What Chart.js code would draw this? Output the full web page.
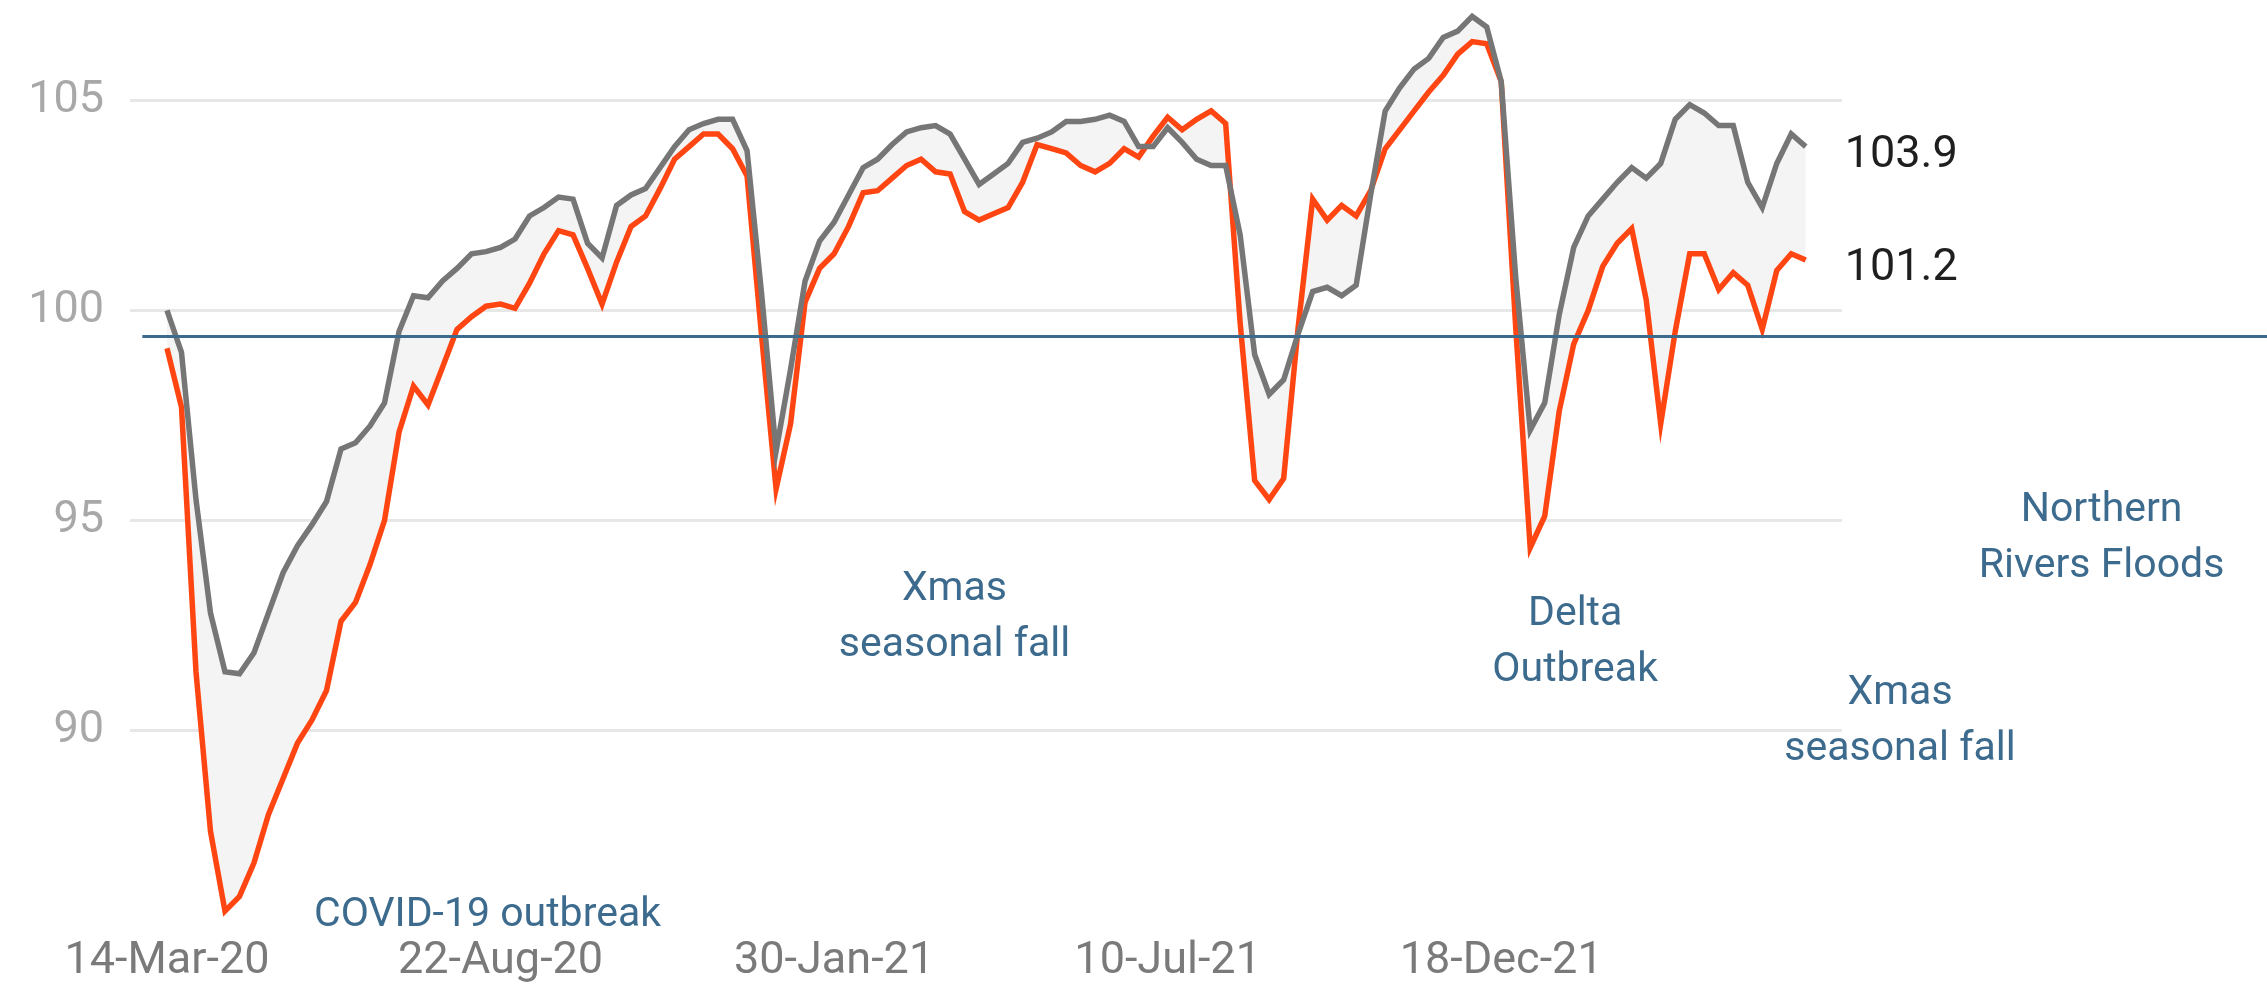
<!DOCTYPE html>
<html>
<head>
<meta charset="utf-8">
<script src="https://cdn.jsdelivr.net/npm/chart.js@4.4.1/dist/chart.umd.min.js"></script>
<style>
  html, body { margin: 0; padding: 0; background: #fff; }
  #wrap { width: 2267px; height: 985px; position: relative; }
</style>
</head>
<body>
<div id="wrap"><canvas id="chart"></canvas></div>
<script>
// weekly index, first week = 14-Mar-20
const tickLabels = ["14-Mar-20", "22-Aug-20", "30-Jan-21", "10-Jul-21", "18-Dec-21"];
const tickWeeks = [0, 23, 46, 69, 92];
const yTicks = [90, 95, 100, 105];

const seriesGrey = [
  100.0, 99.0, 95.5, 92.8, 91.4, 91.35, 91.85, 92.8, 93.75, 94.4,
  94.9, 95.45, 96.7, 96.85, 97.25, 97.8, 99.5, 100.35, 100.3, 100.7,
  101.0, 101.35, 101.4, 101.5, 101.7, 102.25, 102.45, 102.7, 102.65, 101.6,
  101.25, 102.5, 102.75, 102.9, 103.4, 103.9, 104.3, 104.45, 104.55, 104.55,
  103.8, 100.4, 96.65, 98.6, 100.7, 101.65, 102.1, 102.75, 103.4, 103.6,
  103.95, 104.25, 104.35, 104.4, 104.2, 103.6, 103.0, 103.25, 103.5, 104.0,
  104.1, 104.25, 104.5, 104.5, 104.55, 104.65, 104.5, 103.9, 103.9, 104.35,
  104.0, 103.6, 103.45, 103.45, 101.8, 98.95, 98.0, 98.35, 99.45, 100.45,
  100.55, 100.35, 100.6, 102.75, 104.75, 105.3, 105.75, 106.0, 106.5, 106.65,
  107.0, 106.75, 105.45, 100.8, 97.15, 97.8, 99.9, 101.5, 102.25, 102.65,
  103.05, 103.4, 103.15, 103.5, 104.55, 104.9, 104.7, 104.4, 104.4, 103.05,
  102.45, 103.5, 104.2, 103.9
];

const seriesOrange = [
  99.1, 97.7, 91.4, 87.6, 85.7, 86.05, 86.85, 88.0, 88.85, 89.7,
  90.25, 90.95, 92.6, 93.05, 93.95, 95.0, 97.1, 98.2, 97.75, 98.65,
  99.55, 99.85, 100.1, 100.15, 100.05, 100.65, 101.35, 101.9, 101.8, 101.0,
  100.15, 101.15, 102.0, 102.25, 102.9, 103.6, 103.9, 104.2, 104.2, 103.85,
  103.2, 99.4, 95.75, 97.3, 100.2, 101.0, 101.35, 102.0, 102.8, 102.85,
  103.15, 103.45, 103.6, 103.3, 103.25, 102.35, 102.15, 102.3, 102.45, 103.05,
  103.95, 103.85, 103.75, 103.45, 103.3, 103.5, 103.85, 103.65, 104.15, 104.6,
  104.3, 104.55, 104.75, 104.45, 99.7, 95.95, 95.5, 96.0, 99.6, 102.65,
  102.15, 102.5, 102.25, 102.85, 103.85, 104.3, 104.75, 105.2, 105.6, 106.1,
  106.4, 106.35, 105.45, 99.6, 94.35, 95.1, 97.6, 99.2, 100.0, 101.05,
  101.6, 101.95, 100.25, 97.3, 99.5, 101.35, 101.35, 100.5, 100.9, 100.6,
  99.55, 100.95, 101.35, 101.2
];

const refLevel = 99.4;

const notes = [
  { lines: ["COVID-19 outbreak"], week: 22.1, value: 85.6 },
  { lines: ["Xmas", "seasonal fall"], week: 54.3, value: 93.35 },
  { lines: ["Delta", "Outbreak"], week: 97.1, value: 92.75 },
  { lines: ["Xmas", "seasonal fall"], week: 119.5, value: 90.87 },
  { lines: ["Northern", "Rivers Floods"], week: 133.4, value: 95.24 }
];

const BLUE = "#3d6b8e";
const GREY = "#767676";
const ORANGE = "#ff4612";

const toPoints = arr => arr.map((v, i) => ({ x: i, y: v }));

const overlay = {
  id: "overlay",
  afterDatasetsDraw(chart) {
    const ctx = chart.ctx;
    const x = chart.scales.x, y = chart.scales.y;
    ctx.save();

    // reference line
    const ry = Math.round(y.getPixelForValue(refLevel)) + 0.5;
    ctx.strokeStyle = BLUE;
    ctx.lineWidth = 3;
    ctx.beginPath();
    ctx.moveTo(x.getPixelForValue(-1.7), ry);
    ctx.lineTo(chart.width, ry);
    ctx.stroke();

    // last values
    ctx.font = "45px Roboto";
    ctx.fillStyle = "#1f1f1f";
    ctx.textAlign = "left";
    ctx.textBaseline = "middle";
    [seriesGrey, seriesOrange].forEach(s => {
      const last = s.length - 1;
      ctx.fillText(s[last].toFixed(1), x.getPixelForValue(last) + 39, y.getPixelForValue(s[last]) + 9);
    });

    // notes
    ctx.font = "41px Roboto";
    ctx.fillStyle = BLUE;
    ctx.textAlign = "center";
    notes.forEach(n => {
      const px = x.getPixelForValue(n.week);
      const py = y.getPixelForValue(n.value);
      n.lines.forEach((t, k) => ctx.fillText(t, px, py + k * 56));
    });

    ctx.restore();
  }
};

new Chart(document.getElementById("chart"), {
  type: "line",
  data: {
    datasets: [
      {
        label: "Grey",
        data: toPoints(seriesGrey),
        borderColor: GREY,
        borderWidth: 5.5,
        pointRadius: 0,
        tension: 0,
        clip: false,
        fill: false
      },
      {
        label: "Orange",
        data: toPoints(seriesOrange),
        borderColor: ORANGE,
        borderWidth: 5.5,
        pointRadius: 0,
        tension: 0,
        clip: false,
        backgroundColor: "#f4f4f4",
        fill: "-1"
      }
    ]
  },
  options: {
    responsive: true,
    maintainAspectRatio: false,
    animation: false,
    devicePixelRatio: 1,
    layout: { padding: { top: 8, right: 425, left: 0, bottom: 0 } },
    plugins: {
      legend: { display: false },
      tooltip: { enabled: false }
    },
    scales: {
      x: {
        type: "linear",
        min: -2.55,
        max: 115.5,
        grid: { display: false, drawTicks: false },
        border: { display: false },
        afterBuildTicks: s => { s.ticks = tickWeeks.map(v => ({ value: v })); },
        afterFit: s => { s.height = 68; },
        ticks: {
          autoSkip: false,
          maxRotation: 0,
          padding: 22,
          color: "#7a7a7a",
          font: { family: "Roboto", size: 45, lineHeight: 1 },
          callback: v => tickLabels[tickWeeks.indexOf(v)]
        }
      },
      y: {
        min: 85.56,
        max: 107.2,
        grid: { color: "#e7e7e7", lineWidth: 3, drawTicks: false },
        border: { display: false },
        afterBuildTicks: s => { s.ticks = yTicks.map(v => ({ value: v })); },
        afterFit: s => { s.width = 130; s.paddingTop = 0; s.paddingBottom = 0; },
        ticks: {
          padding: 26,
          color: "#a8a8a8",
          font: { family: "Roboto", size: 45, lineHeight: 1 }
        }
      }
    }
  },
  plugins: [overlay]
});
</script>
</body>
</html>
